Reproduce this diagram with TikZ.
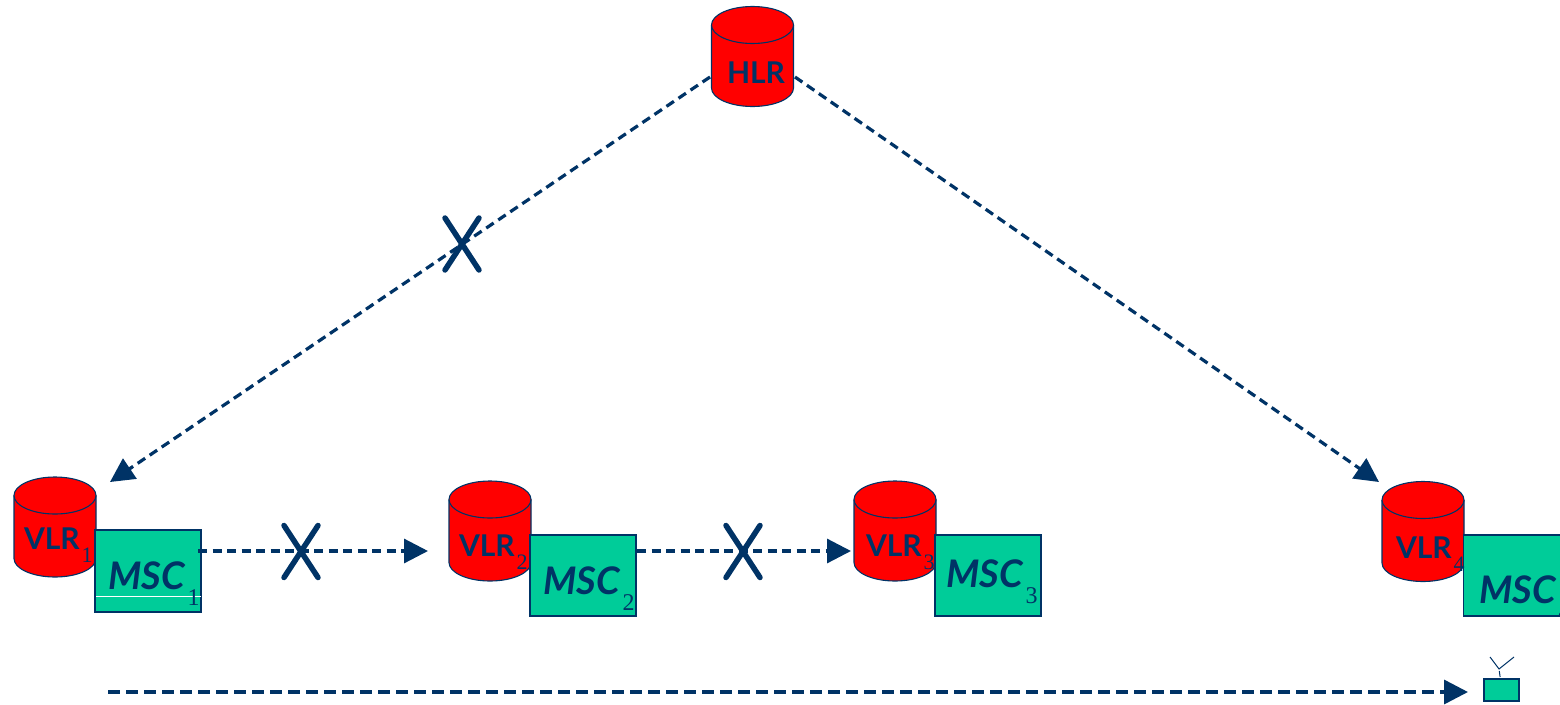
\documentclass[tikz,border=0pt]{standalone}
\usepackage{fontspec}
\setmainfont{Lato}
\newfontfamily\subfont{Liberation Serif}
\usetikzlibrary{arrows.meta}
\definecolor{navy}{HTML}{003366}
\definecolor{msc}{HTML}{00CC99}
\definecolor{vlr}{HTML}{FF0000}
\newcommand{\sbs}[1]{\hspace{2pt}\raisebox{-13pt}{\mdseries\upshape\subfont\fontsize{22}{22}\selectfont #1}}
\newcommand{\sbm}[1]{\hspace{3pt}\raisebox{-16pt}{\mdseries\upshape\subfont\fontsize{24}{24}\selectfont #1}}
% #1 name, #2 centre x, #3 centre y : a cylinder 82 wide, 100 high, ends 18.5 deep
\newcommand{\dbcyl}[3]{%
  \node[dbbox] (#1) at (#2,#3) {};
  \draw[dbline] (#1.north west) ++(0,18.5)
     arc[start angle=180,end angle=0,x radius=41,y radius=-18.5]
     -- ++(0,63)
     arc[start angle=0,end angle=-180,x radius=41,y radius=-18.5] -- cycle;
  \draw[dbline] (#1.north west) ++(0,18.5)
     arc[start angle=180,end angle=360,x radius=41,y radius=-18.5];
}
\tikzset{
  x=1pt,y=-1pt,
  dbbox/.style={rectangle,minimum width=82pt,minimum height=100pt,inner sep=0pt,outer sep=0pt},
  dbline/.style={draw=navy,line width=1.1pt,fill=vlr},
  mscbox/.style={rectangle,draw=navy,line width=1.1pt,fill=msc,minimum width=106pt,minimum height=81pt,inner sep=0pt,outer sep=0pt},
  lab/.style={anchor=base west,text=navy,inner sep=0pt,outer sep=0pt,font=\fontsize{30}{30}\selectfont\bfseries},
  mlab/.style={lab,font=\fontsize{38}{38}\selectfont\itshape\bfseries},
  link/.style={draw=navy,line width=3.2pt,dash pattern=on 9pt off 5.5pt,
    -{Triangle[length=24pt,width=24pt,fill=navy]}},
  flowline/.style={draw=navy,line width=3.5pt,dash pattern=on 12pt off 6pt,
    -{Triangle[length=24pt,width=24pt,fill=navy]}},
  xmark/.style={draw=navy,line width=5.5pt,line cap=round},
  thinline/.style={draw=navy,line width=1pt},
}
\begin{document}
\begin{tikzpicture}
\useasboundingbox (0,0) rectangle (1560,704);
% databases
\dbcyl{hlr}{752.5}{56.5}
\dbcyl{vlr1}{55}{527}
\dbcyl{vlr2}{490}{531}
\dbcyl{vlr3}{895}{531}
\dbcyl{vlr4}{1423}{531.5}
% switches
\node[mscbox,minimum height=82pt] (msc1) at (148,571) {};
\node[mscbox] (msc2) at (583,575.5) {};
\node[mscbox] (msc3) at (988,575.5) {};
\path[fill=msc,draw=navy,line width=1.1pt] (1560,535) -- (1463.5,535) -- (1463.5,616) -- (1560,616);
\node[inner sep=0pt,outer sep=0pt,minimum width=96pt,minimum height=81pt] (msc4) at (1511.5,575.5) {};
\draw[white,line width=1pt] (96,596.5) -- (200.5,596.5);
% labels
\node[lab] (thlr) at (727,83) {HLR};
\node[lab] (tv1) at (24,549) {VLR\sbs{1}};
\node[lab] (tv2) at (459,556) {VLR\sbs{2}};
\node[lab] (tv3) at (866,556) {VLR\sbs{3}};
\node[lab] (tv4) at (1396,558) {VLR\sbs{4}};
\node[mlab] (tm1) at (108,589) {MSC\sbm{1}};
\node[mlab] (tm2) at (543,594) {MSC\sbm{2}};
\node[mlab] (tm3) at (946,587) {MSC\sbm{3}};
\node[mlab] (tm4) at (1479,603) {MSC\sbm{4}};
% connector ends
\coordinate (hl) at (710,77);
\coordinate (hr) at (795,77);
\coordinate (v1in) at (110,482);
\coordinate (v4in) at (1379,482);
\coordinate (m1out) at (198,551);
\coordinate (v2in) at (428,551);
\coordinate (m2out) at (637,551);
\coordinate (v3in) at (851,551);
\coordinate (fstart) at (108,692);
\coordinate (fend) at (1468,692);
\draw[link] (hl) -- (v1in);
\draw[link] (hr) -- (v4in);
\draw[link] (m1out) -- (v2in);
\draw[link] (m2out) -- (v3in);
\draw[flowline] (fstart) -- (fend);
% crosses
\coordinate (xa) at (462,244);
\coordinate (xb) at (301,551.5);
\coordinate (xc) at (743,551.5);
\foreach \c in {xa,xb,xc}{
  \draw[xmark] ([shift={(-17,-26)}]\c) -- ([shift={(17,26)}]\c);
  \draw[xmark] ([shift={(17,-26)}]\c) -- ([shift={(-17,26)}]\c);
}
% mobile terminal
\node[mscbox,minimum width=35pt,minimum height=22pt,line width=1.3pt] (mob) at (1501.5,690) {};
\coordinate (ant) at (1499,669);
\draw[thinline] (1490,657) -- (ant) -- (1514,657);
\draw[thinline] (ant) ++(0.3,2) -- ++(0.8,6);
\end{tikzpicture}
\end{document}
